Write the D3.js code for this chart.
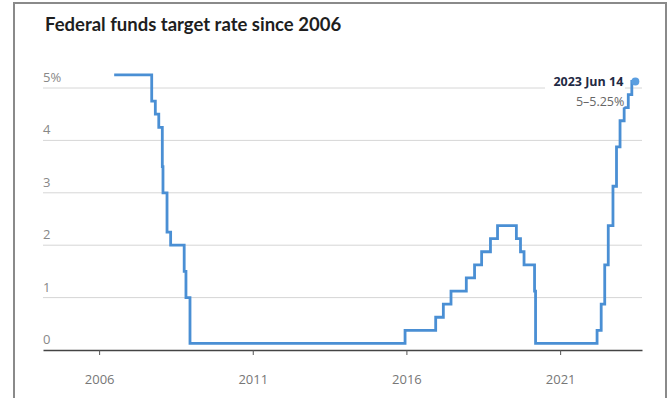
<!DOCTYPE html>
<html>
<head>
<meta charset="utf-8">
<script src="https://cdn.jsdelivr.net/npm/d3@7"></script>
<style>
  html, body { margin: 0; padding: 0; background: #fff; }
  svg { display: block; }
</style>
</head>
<body>
<svg id="chart" width="670" height="398"></svg>
<script>
// Federal funds target rate (midpoint of the target range), dates of each change
const changeDates = [
  "2006-06-29", "2007-09-18", "2007-10-31", "2007-12-11", "2008-01-22",
  "2008-01-30", "2008-03-18", "2008-04-30", "2008-10-08", "2008-10-29",
  "2008-12-16", "2015-12-16", "2016-12-14", "2017-03-15", "2017-06-14",
  "2017-12-13", "2018-03-21", "2018-06-13", "2018-09-26", "2018-12-19",
  "2019-07-31", "2019-09-18", "2019-10-30", "2020-03-03", "2020-03-15",
  "2022-03-16", "2022-05-04", "2022-06-15", "2022-07-27", "2022-09-21",
  "2022-11-02", "2022-12-14", "2023-02-01", "2023-03-22", "2023-05-03",
  "2023-06-14"
];
const rateValues = [
  5.25, 4.75, 4.5, 4.25, 3.5,
  3.0, 2.25, 2.0, 1.5, 1.0,
  0.125, 0.375, 0.625, 0.875, 1.125,
  1.375, 1.625, 1.875, 2.125, 2.375,
  2.125, 1.875, 1.625, 1.125, 0.125,
  0.375, 0.875, 1.625, 2.375, 3.125,
  3.875, 4.375, 4.625, 4.875, 5.125,
  5.125
];
const yTicks = [0, 1, 2, 3, 4, 5];
const xTickYears = [2006, 2011, 2016, 2021];
const titleText = "Federal funds target rate since 2006";
const noteDate = "2023 Jun 14";
const noteRange = "5\u20135.25%";

const parse = d3.timeParse("%Y-%m-%d");
const series = changeDates.map((d, i) => ({ date: parse(d), value: rateValues[i] }));

const svg = d3.select("#chart");
const W = 670, H = 398;
const plotLeft = 43, plotRight = 642, plotTop = 88, plotBottom = 350;

// Frame around the graphic
svg.append("path")
  .attr("d", `M14,${H + 2} V3 H666 V${H + 2}`)
  .attr("fill", "none")
  .attr("stroke", "#8a8a8a")
  .attr("stroke-width", 2);

// Title
svg.append("text")
  .attr("x", 45).attr("y", 31)
  .attr("font-family", "Lato, 'Open Sans', sans-serif")
  .attr("font-weight", 700)
  .attr("font-size", 18.5)
  .attr("fill", "#1e1e1e")
  .text(titleText);

const x = d3.scaleTime()
  .domain([new Date(2004, 2, 5), new Date(2023, 8, 1)])
  .range([plotLeft, plotRight]);
const y = d3.scaleLinear().domain([0, 5]).range([plotBottom, plotTop]);

// Horizontal gridlines and y labels
const grid = svg.append("g");
grid.selectAll("line")
  .data(yTicks.filter(d => d > 0))
  .join("line")
  .attr("x1", plotLeft).attr("x2", plotRight)
  .attr("y1", d => y(d)).attr("y2", d => y(d))
  .attr("stroke", "#d6d6d6").attr("stroke-width", 1);

grid.selectAll("text")
  .data(yTicks)
  .join("text")
  .attr("x", plotLeft).attr("y", d => y(d) - 6)
  .attr("font-family", "'Open Sans', sans-serif")
  .attr("font-size", 13)
  .attr("fill", "#888")
  .text(d => d === 5 ? "5%" : d);

// Bottom axis
const xAxis = d3.axisBottom(x)
  .tickValues(xTickYears.map(yr => new Date(yr, 0, 1)))
  .tickFormat(d3.timeFormat("%Y"))
  .tickSize(5)
  .tickSizeOuter(0);
const gx = svg.append("g").attr("transform", `translate(0,${plotBottom})`).call(xAxis);
gx.select(".domain").attr("stroke", "#444").attr("stroke-width", 1.5);
gx.selectAll(".tick line").attr("stroke", "#555");
gx.selectAll(".tick text")
  .attr("dy", 0).attr("y", 34)
  .attr("font-family", "'Open Sans', sans-serif")
  .attr("font-size", 13)
  .attr("fill", "#777");

// White panel behind the end annotation
svg.append("rect")
  .attr("x", 545).attr("y", 70)
  .attr("width", 80).attr("height", 42)
  .attr("fill", "#fff");

// Rate line
const line = d3.line()
  .x(d => x(d.date))
  .y(d => y(d.value))
  .curve(d3.curveStepAfter);
svg.append("path")
  .datum(series)
  .attr("d", line)
  .attr("fill", "none")
  .attr("stroke", "#4a8fd4")
  .attr("stroke-width", 2.8)
  .attr("stroke-linejoin", "miter");

// End point marker and label
const last = series[series.length - 1];
svg.append("circle")
  .attr("cx", x(last.date)).attr("cy", y(last.value))
  .attr("r", 4)
  .attr("fill", "#5a9ee0");

const note = svg.append("g")
  .attr("font-family", "'Open Sans', sans-serif")
  .attr("text-anchor", "end");
note.append("text")
  .attr("x", x(last.date) - 12).attr("y", y(last.value) + 5)
  .attr("font-weight", 700).attr("font-size", 12.5)
  .attr("fill", "#1f2a44")
  .attr("paint-order", "stroke").attr("stroke", "#fff").attr("stroke-width", 3)
  .text(noteDate);
note.append("text")
  .attr("x", x(last.date) - 11).attr("y", y(last.value) + 25)
  .attr("font-size", 12.5)
  .attr("fill", "#666")
  .attr("paint-order", "stroke").attr("stroke", "#fff").attr("stroke-width", 3)
  .text(noteRange);
</script>
</body>
</html>
